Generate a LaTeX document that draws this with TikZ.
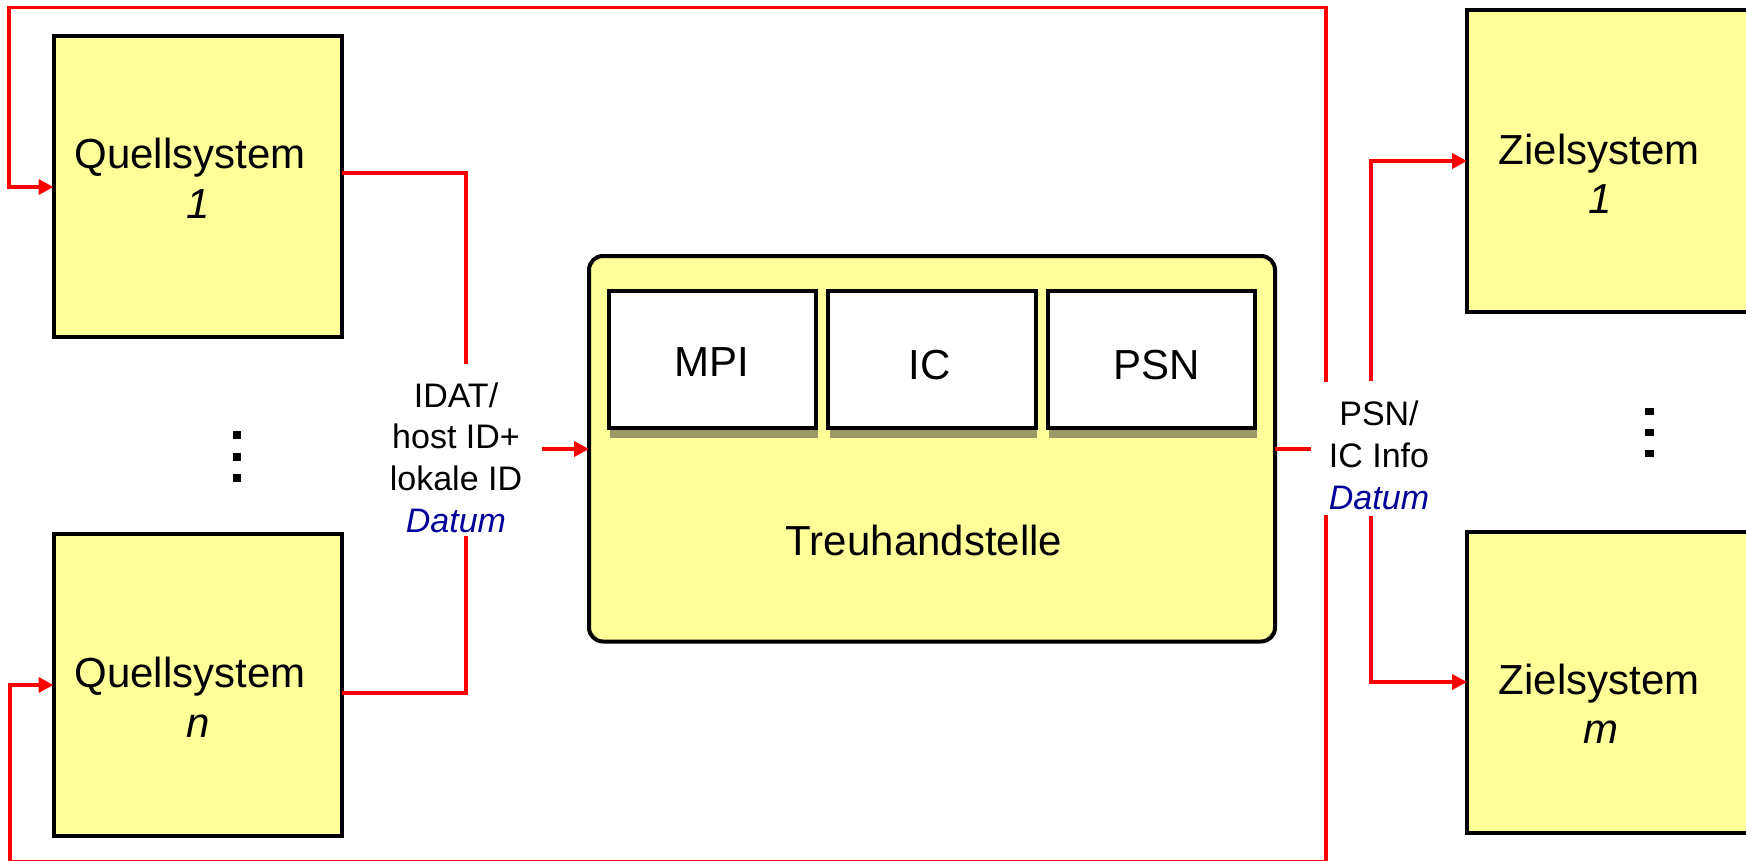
\documentclass[tikz,border=0pt]{standalone}
\usepackage{fontspec}
\setmainfont{Liberation Sans}
\usetikzlibrary{arrows.meta}
\definecolor{boxyellow}{HTML}{FFFF99}
\definecolor{shadowol}{HTML}{999966}
\definecolor{datumblue}{HTML}{000099}
\definecolor{redline}{HTML}{FF0000}
\begin{document}
\begin{tikzpicture}[x=1pt,y=-1pt,
  sysbox/.style={draw=black, line width=4pt, fill=boxyellow, inner sep=0pt, outer sep=0pt, rectangle},
  modbox/.style={draw=black, line width=4pt, fill=white, inner sep=0pt, outer sep=0pt, minimum width=207.5pt, minimum height=137.8pt},
  modshadow/.style={fill=shadowol, inner sep=0pt, outer sep=0pt, minimum width=207.5pt, minimum height=137.8pt},
  rl/.style={draw=redline, line width=3.8pt},
  rarr/.style={rl, -{Triangle[length=15pt,width=15pt]}},
  big/.style={inner sep=0pt, anchor=base, font=\fontsize{42}{50}\selectfont},
  small/.style={inner sep=0pt, anchor=base, font=\fontsize{34}{42}\selectfont},
  dotl/.style={fill=black, inner sep=0pt, minimum width=8pt, minimum height=8pt},
  dotr/.style={fill=black, inner sep=0pt, minimum width=9pt, minimum height=7pt},
]
\path[use as bounding box] (0,0) rectangle (1746,860);
\fill[white] (0,0) rectangle (1746,860);
\clip (0,0) rectangle (1746,860);

% system boxes
\node[sysbox, minimum width=288pt, minimum height=301pt] (q1) at (197.5,186) {};
\node[sysbox, minimum width=288pt, minimum height=302pt] (qn) at (197.5,685) {};
\node[sysbox, minimum width=333pt, minimum height=301.5pt] (z1) at (1633.5,160.75) {};
\node[sysbox, minimum width=333pt, minimum height=301.5pt] (zm) at (1633.5,682.25) {};

% trust centre
\node[sysbox, rounded corners=14pt, minimum width=686pt, minimum height=385.5pt] (th) at (932,448.75) {};
\node[modshadow] (mpis) at (713.75,368.9) {};
\node[modshadow] (ics) at (933.35,368.9) {};
\node[modshadow] (psns) at (1152.75,368.9) {};
\node[modbox] (mpi) at (712.25,359.4) {};
\node[modbox] (ic) at (931.85,359.4) {};
\node[modbox] (psn) at (1151.25,359.4) {};

% texts
\node[big] (q1a) at (190,168) {Quellsystem};
\node[big] (q1b) at (198,218) {\itshape 1};
\node[big] (qna) at (190,687.5) {Quellsystem};
\node[big] (qnb) at (198,737.5) {\itshape n};
\node[big] (z1a) at (1599,164.6) {Zielsystem};
\node[big] (z1b) at (1600,213) {\itshape 1};
\node[big] (zma) at (1599,694) {Zielsystem};
\node[big] (zmb) at (1601,743) {\itshape m};
\node[big] (mpit) at (712,376) {MPI};
\node[big] (ict) at (929.5,379) {IC};
\node[big] (psnt) at (1157,379) {PSN};
\node[big] (tht) at (924,555) {Treuhandstelle};

\node[small] (la1) at (456,407) {IDAT/};
\node[small] (la2) at (456,448.5) {host ID+};
\node[small] (la3) at (456,490) {lokale ID};
\node[small, text=datumblue] (la4) at (456,532) {\itshape Datum};
\node[small] (lb1) at (1379,425.5) {PSN/};
\node[small] (lb2) at (1379,467.5) {IC Info};
\node[small, text=datumblue] (lb3) at (1379,509.5) {\itshape Datum};

% dots
\node[dotl] (dl1) at (236.5,435) {};
\node[dotl] (dl2) at (236.5,456.5) {};
\node[dotl] (dl3) at (236.5,478) {};
\node[dotr] (dr1) at (1649,411) {};
\node[dotr] (dr2) at (1649,432) {};
\node[dotr] (dr3) at (1649,453) {};

% coordinates
\coordinate (fbTop) at (1326,382);
\coordinate (fbBot) at (1326,515);
\coordinate (tl) at (9,7.5);
\coordinate (bl) at (9.6,861.5);
\coordinate (in1) at (0,187);
\coordinate (inN) at (0,685);
\coordinate (o1) at (0,173);
\coordinate (oN) at (0,693);
\coordinate (i1) at (466,364);
\coordinate (iN) at (466,536);
\coordinate (tin) at (542,449);
\coordinate (tout) at (1311,449);
\coordinate (zs1) at (1371,381);
\coordinate (zs2) at (1371,516);
\coordinate (zin1) at (0,161);
\coordinate (zinm) at (0,682);

% connectors
\draw[rarr] (fbTop) |- (tl) |- (q1.west |- in1);
\draw[rarr] (fbBot) |- (bl) |- (qn.west |- inN);
\draw[rl] (q1.east |- o1) -| (i1);
\draw[rl] (qn.east |- oN) -| (iN);
\draw[rarr] (tin) -- (th.west |- tin);
\draw[rl] (th.east |- tout) -- (tout);
\draw[rarr] (zs1) |- (z1.west |- zin1);
\draw[rarr] (zs2) |- (zm.west |- zinm);
\end{tikzpicture}
\end{document}
